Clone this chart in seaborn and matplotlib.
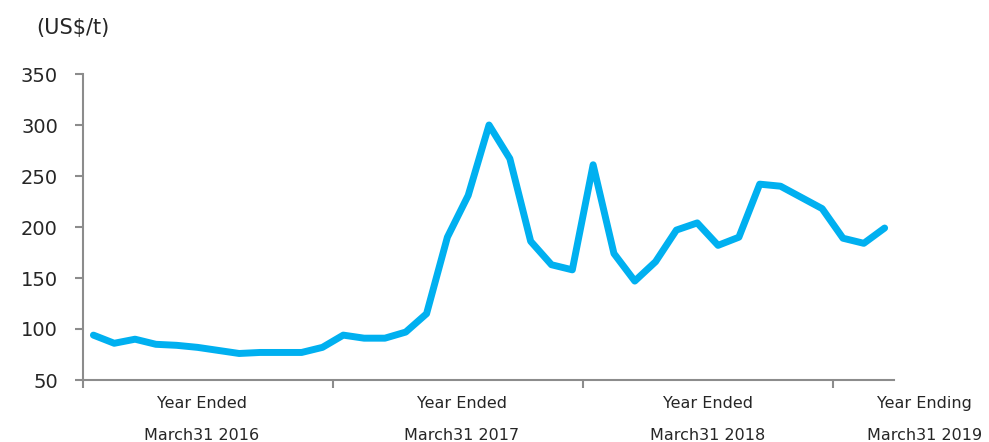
import matplotlib
matplotlib.use("Agg")
import matplotlib.pyplot as plt
import matplotlib.transforms as mtransforms
import seaborn as sns
import pandas as pd

months = ["Apr-15", "May-15", "Jun-15", "Jul-15", "Aug-15", "Sep-15", "Oct-15", "Nov-15",
          "Dec-15", "Jan-16", "Feb-16", "Mar-16",
          "Apr-16", "May-16", "Jun-16", "Jul-16", "Aug-16", "Sep-16", "Oct-16", "Nov-16",
          "Dec-16", "Jan-17", "Feb-17", "Mar-17",
          "Apr-17", "May-17", "Jun-17", "Jul-17", "Aug-17", "Sep-17", "Oct-17", "Nov-17",
          "Dec-17", "Jan-18", "Feb-18", "Mar-18",
          "Apr-18", "May-18", "Jun-18"]
prices = [94, 86, 90, 85, 84, 82, 79, 76, 77, 77, 77, 82,
          94, 91, 91, 97, 115, 190, 231, 300, 267, 186, 163, 158,
          261, 174, 147, 166, 197, 204, 182, 190, 242, 240, 229, 218,
          189, 184, 199]
period_line1 = ["Year Ended", "Year Ended", "Year Ended", "Year Ending"]
period_line2 = ["March31 2016", "March31 2017", "March31 2018", "March31 2019"]
period_label_pos = [5.2, 17.7, 29.5, 39.9]
boundaries = [-0.5, 11.5, 23.5, 35.5]
yticks = [50, 100, 150, 200, 250, 300, 350]
unit_label = "(US$/t)"

df = pd.DataFrame({"month": months, "price": prices, "pos": range(len(months))})

sns.set_theme(style="white")
plt.rcParams["font.family"] = ["DejaVu Sans"]

W, H = 989, 442
fig = plt.figure(figsize=(W / 100, H / 100), dpi=100)
ax = fig.add_axes([83 / W, (H - 380) / H, (894 - 83) / W, (380 - 74) / H])

sns.lineplot(data=df, x="pos", y="price", ax=ax, color="#00B0F0", linewidth=5,
             solid_joinstyle="round", solid_capstyle="round")

ax.set_xlim(-0.5, 38.45)
ax.set_ylim(50, 350)
ax.set_yticks(yticks)
ax.set_xticks(boundaries)
ax.set_xticklabels([])
ax.set_xlabel("")
ax.set_ylabel("")

for side in ["top", "right"]:
    ax.spines[side].set_visible(False)
for side in ["left", "bottom"]:
    ax.spines[side].set_color("#8c8c8c")
    ax.spines[side].set_linewidth(1.5)

ax.tick_params(axis="y", direction="out", length=6, width=1.5, color="#8c8c8c",
               labelsize=14, labelcolor="#262626", pad=12, left=True)
ax.tick_params(axis="x", direction="out", length=6, width=1.5, color="#8c8c8c", bottom=True)

trans = mtransforms.blended_transform_factory(ax.transData, ax.transAxes)
for x, l1, l2 in zip(period_label_pos, period_line1, period_line2):
    ax.text(x, -0.078, l1, transform=trans, ha="center", va="center", fontsize=11.5,
            color="#262626", clip_on=False)
    ax.text(x, -0.18, l2, transform=trans, ha="center", va="center", fontsize=11.5,
            color="#262626", clip_on=False)

fig.text(73 / W, 1 - 28 / H, unit_label, ha="center", va="center", fontsize=15, color="#262626")

fig.savefig("out.png", dpi=100)
